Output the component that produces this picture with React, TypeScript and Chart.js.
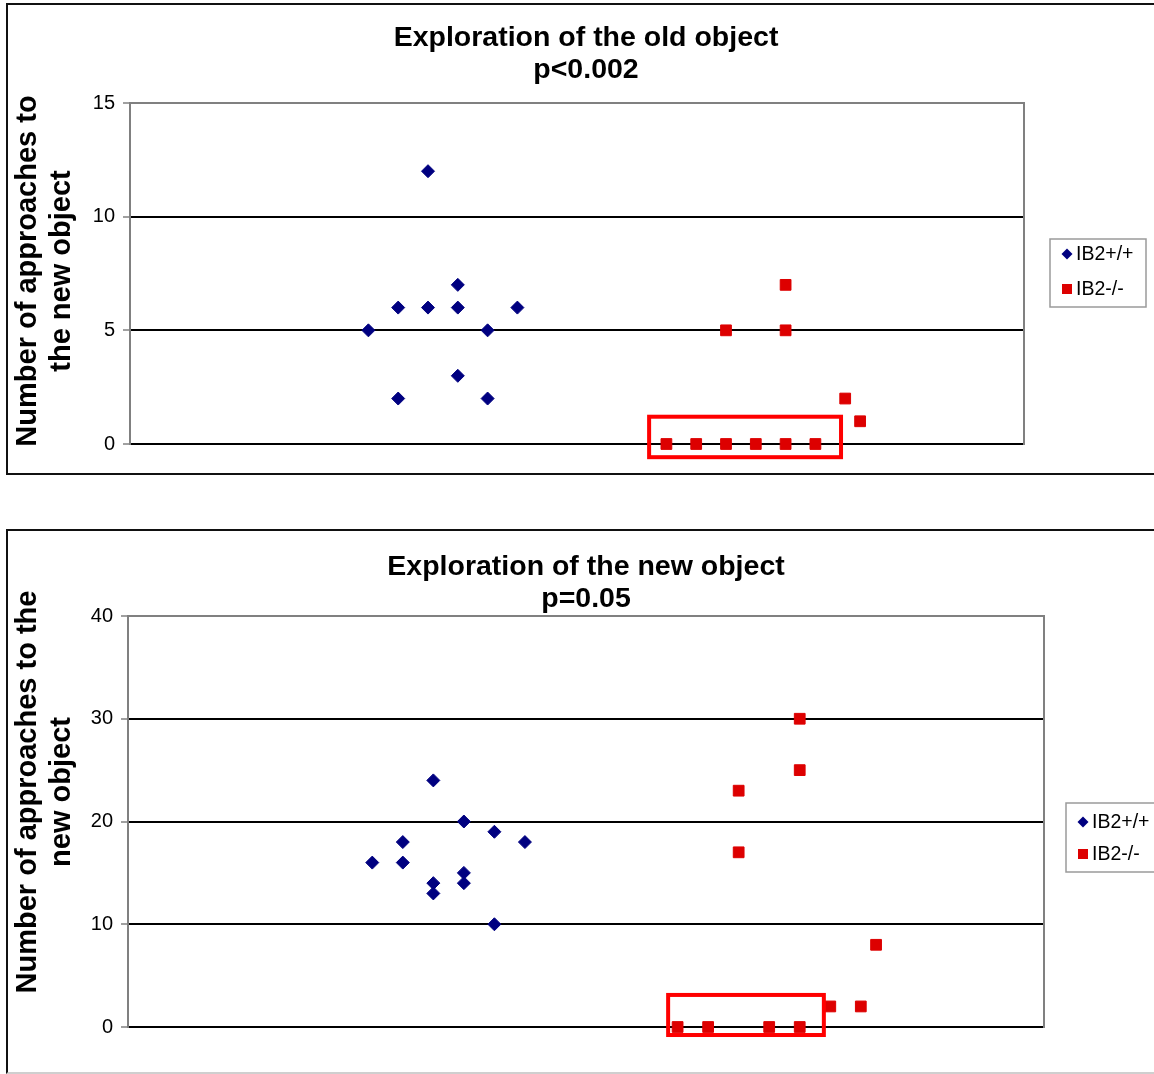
import React, { useEffect, useRef } from "react";
import { Chart, registerables } from "chart.js";

Chart.register(...registerables);

const FONT = "'Liberation Sans', Arial, Helvetica, sans-serif";
const NAVY = "#000080";
const RED = "#DD0000";

// Group labels
const seriesNames = ["IB2+/+", "IB2-/-"];

// Exploration of the old object (p<0.002)
const oldTitle = ["Exploration of the old object", "p<0.002"];
const oldAxisTitle = ["Number of approaches to", "the new object"];
const oldWildTypeX = [8, 9, 9, 10, 10, 11, 11, 11, 12, 12, 13];
const oldWildTypeY = [5, 6, 2, 12, 6, 7, 6, 3, 5, 2, 6];
const oldKnockoutX = [18, 19, 20, 20, 21, 22, 22, 22, 23, 24, 24.5];
const oldKnockoutY = [0, 0, 0, 5, 0, 0, 5, 7, 0, 2, 1];
const oldYMax = 15;
const oldYStep = 5;

// Exploration of the new object (p=0.05)
const newTitle = ["Exploration of the new object", "p=0.05"];
const newAxisTitle = ["Number of approaches to the", "new object"];
const newWildTypeX = [8, 9, 9, 10, 10, 10, 11, 11, 11, 12, 12, 13];
const newWildTypeY = [16, 18, 16, 24, 14, 13, 20, 15, 14, 19, 10, 18];
const newKnockoutX = [18, 19, 20, 20, 21, 22, 22, 22, 23, 24, 24.5];
const newKnockoutY = [0, 0, 23, 17, 0, 30, 25, 0, 2, 2, 8];
const newYMax = 40;
const newYStep = 10;

const xMin = 0;
const xMax = 30;

const toPoints = (xs: number[], ys: number[]) => xs.map((x, i) => ({ x, y: ys[i] }));

// Gray frame on the top, left and right of the plot area
const plotFrame = {
  id: "plotFrame",
  beforeDatasetsDraw(chart: any, _args: any, opts: any) {
    const { ctx, chartArea: a } = chart;
    ctx.save();
    ctx.strokeStyle = opts.color;
    ctx.lineWidth = opts.width;
    ctx.beginPath();
    ctx.moveTo(a.left, a.bottom + 1);
    ctx.lineTo(a.left, a.top);
    ctx.lineTo(a.right, a.top);
    ctx.lineTo(a.right, a.bottom + 1);
    ctx.stroke();
    ctx.restore();
  },
};

// Red outline around the zero-valued knockout animals
const highlightBox = {
  id: "highlightBox",
  afterDatasetsDraw(chart: any, _args: any, opts: any) {
    const { ctx, scales } = chart;
    const x0 = scales.x.getPixelForValue(opts.xFrom);
    const x1 = scales.x.getPixelForValue(opts.xTo);
    const y0 = scales.y.getPixelForValue(opts.yFrom);
    const y1 = scales.y.getPixelForValue(opts.yTo);
    ctx.save();
    ctx.strokeStyle = opts.color;
    ctx.lineWidth = opts.width;
    ctx.strokeRect(Math.min(x0, x1), Math.min(y0, y1), Math.abs(x1 - x0), Math.abs(y1 - y0));
    ctx.restore();
  },
};

// Two-line centred heading
const heading = {
  id: "heading",
  afterDraw(chart: any, _args: any, opts: any) {
    const { ctx } = chart;
    ctx.save();
    ctx.fillStyle = "#000";
    ctx.font = `bold ${opts.size}px ${FONT}`;
    ctx.textAlign = "center";
    ctx.textBaseline = "middle";
    opts.lines.forEach((line: string, i: number) => {
      ctx.fillText(line, opts.centerX, opts.ys[i]);
    });
    ctx.restore();
  },
};

// Two-line rotated y-axis title
const sideTitle = {
  id: "sideTitle",
  afterDraw(chart: any, _args: any, opts: any) {
    const { ctx } = chart;
    ctx.save();
    ctx.fillStyle = "#000";
    ctx.font = `bold ${opts.size}px ${FONT}`;
    ctx.textAlign = "center";
    ctx.textBaseline = "middle";
    opts.lines.forEach((line: string, i: number) => {
      ctx.save();
      ctx.translate(opts.xs[i], opts.centerY);
      ctx.rotate(-Math.PI / 2);
      ctx.fillText(line, 0, 0);
      ctx.restore();
    });
    ctx.restore();
  },
};

// Boxed legend drawn from the datasets
const boxedLegend = {
  id: "boxedLegend",
  afterDraw(chart: any, _args: any, opts: any) {
    const { ctx } = chart;
    ctx.save();
    ctx.strokeStyle = "#9a9a9a";
    ctx.lineWidth = 1.5;
    ctx.fillStyle = "#fff";
    ctx.fillRect(opts.left, opts.top, opts.width, opts.height);
    ctx.strokeRect(opts.left, opts.top, opts.width, opts.height);
    ctx.font = `${opts.size}px ${FONT}`;
    ctx.textAlign = "left";
    ctx.textBaseline = "middle";
    chart.data.datasets.forEach((ds: any, i: number) => {
      const y = opts.rows[i];
      const mx = opts.markerX;
      ctx.fillStyle = ds.backgroundColor;
      ctx.beginPath();
      if (ds.pointStyle === "rectRot") {
        const r = 5.5;
        ctx.moveTo(mx - r, y);
        ctx.lineTo(mx, y - r);
        ctx.lineTo(mx + r, y);
        ctx.lineTo(mx, y + r);
        ctx.closePath();
      } else {
        const h = 5;
        ctx.rect(mx - h, y - h, 2 * h, 2 * h);
      }
      ctx.fill();
      ctx.fillStyle = "#000";
      ctx.fillText(ds.label, opts.textX, y + 1);
    });
    ctx.restore();
  },
};

type PanelProps = {
  top: number;
  height: number;
  title: string[];
  titleYs: number[];
  axisTitle: string[];
  axisTitleCenter: number;
  wildType: { x: number; y: number }[];
  knockout: { x: number; y: number }[];
  yMax: number;
  yStep: number;
  plotLeft: number;
  padTop: number;
  padRight: number;
  padBottom: number;
  legend: any;
  highlight: any;
};

function ScatterPanel(p: PanelProps) {
  const ref = useRef<HTMLCanvasElement | null>(null);

  useEffect(() => {
    if (!ref.current) return;
    const chart = new Chart(ref.current, {
      type: "scatter",
      data: {
        datasets: [
          {
            label: seriesNames[0],
            data: p.wildType,
            pointStyle: "rectRot",
            pointRadius: 6.5,
            pointHoverRadius: 6.5,
            backgroundColor: NAVY,
            borderColor: NAVY,
            borderWidth: 1,
            clip: false,
          } as any,
          {
            label: seriesNames[1],
            data: p.knockout,
            pointStyle: "rect",
            pointRadius: 7.6,
            pointHoverRadius: 7.6,
            backgroundColor: RED,
            borderColor: RED,
            borderWidth: 1,
            clip: false,
          } as any,
        ],
      },
      options: {
        responsive: false,
        animation: false,
        devicePixelRatio: 1,
        events: [],
        layout: { padding: { left: 0, top: p.padTop, right: p.padRight, bottom: p.padBottom } },
        scales: {
          x: { type: "linear", min: xMin, max: xMax, display: false },
          y: {
            type: "linear",
            min: 0,
            max: p.yMax,
            afterFit: (scale: any) => {
              scale.width = p.plotLeft;
            },
            ticks: {
              stepSize: p.yStep,
              color: "#000",
              padding: 8,
              font: { family: FONT, size: 20 },
            },
            grid: {
              color: "#000",
              lineWidth: 2,
              tickColor: "#808080",
              tickLength: 7,
              tickWidth: 1.5,
            },
            border: { display: false },
          },
        },
        plugins: {
          legend: { display: false },
          tooltip: { enabled: false },
          title: { display: false },
          plotFrame: { color: "#808080", width: 2 },
          highlightBox: p.highlight,
          heading: { lines: p.title, centerX: 586, ys: p.titleYs, size: 28.5 },
          sideTitle: { lines: p.axisTitle, xs: [28, 62], centerY: p.axisTitleCenter, size: 29 },
          boxedLegend: p.legend,
        } as any,
      },
      plugins: [plotFrame, highlightBox, heading, sideTitle, boxedLegend],
    });
    return () => chart.destroy();
  }, []);

  return (
    <canvas
      ref={ref}
      width={1154}
      height={p.height}
      style={{ position: "absolute", left: 0, top: p.top, width: 1154, height: p.height }}
    />
  );
}

export default function App() {
  return (
    <div
      style={{
        position: "absolute",
        left: 0,
        top: 0,
        width: 1154,
        height: 1074,
        overflow: "hidden",
        background: "#fff",
      }}
    >
      <div
        style={{
          position: "absolute",
          left: 6,
          top: 3,
          width: 1170,
          height: 472,
          boxSizing: "border-box",
          border: "2px solid #111",
        }}
      />
      <div
        style={{
          position: "absolute",
          left: 6,
          top: 529,
          width: 1170,
          height: 545,
          boxSizing: "border-box",
          borderTop: "2px solid #111",
          borderLeft: "2px solid #111",
          borderBottom: "2px solid #cfcfcf",
        }}
      />
      <ScatterPanel
        top={0}
        height={474}
        title={oldTitle}
        titleYs={[38, 70]}
        axisTitle={oldAxisTitle}
        axisTitleCenter={271}
        wildType={toPoints(oldWildTypeX, oldWildTypeY)}
        knockout={toPoints(oldKnockoutX, oldKnockoutY)}
        yMax={oldYMax}
        yStep={oldYStep}
        plotLeft={130}
        padTop={103}
        padRight={130}
        padBottom={30}
        legend={{ left: 1050, top: 239, width: 96, height: 68, rows: [254, 289], markerX: 1067, textX: 1076, size: 19.5 }}
        highlight={{ xFrom: 17.42, xTo: 23.86, yFrom: 1.2, yTo: -0.58, color: "#FF0000", width: 4 }}
      />
      <ScatterPanel
        top={530}
        height={544}
        title={newTitle}
        titleYs={[37, 69]}
        axisTitle={newAxisTitle}
        axisTitleCenter={262}
        wildType={toPoints(newWildTypeX, newWildTypeY)}
        knockout={toPoints(newKnockoutX, newKnockoutY)}
        yMax={newYMax}
        yStep={newYStep}
        plotLeft={128}
        padTop={86}
        padRight={110}
        padBottom={47}
        legend={{ left: 1066, top: 273, width: 100, height: 69, rows: [292, 324], markerX: 1083, textX: 1092, size: 19.5 }}
        highlight={{ xFrom: 17.69, xTo: 22.79, yFrom: 3.12, yTo: -0.78, color: "#FF0000", width: 4 }}
      />
    </div>
  );
}
